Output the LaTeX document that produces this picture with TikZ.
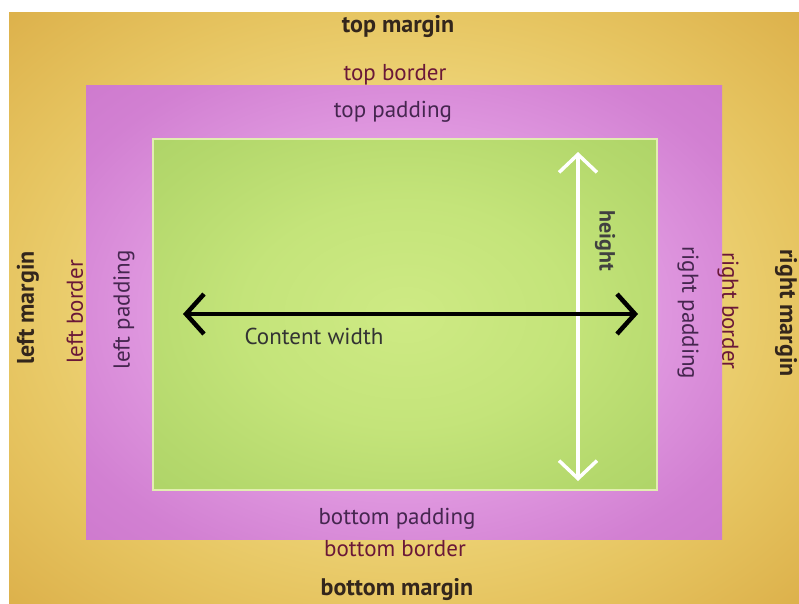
\documentclass[tikz,border=0pt]{standalone}
\usepackage{fontspec}
\setmainfont{PT Sans}
\usetikzlibrary{arrows.meta}
\definecolor{margtxt}{HTML}{33261C}
\definecolor{bordtxt}{HTML}{6A1838}
\definecolor{padtxt}{HTML}{45264F}
\definecolor{grline}{HTML}{E2EEB0}
\pgfdeclareradialshading{yelshade}{\pgfpoint{0bp}{0bp}}{%
  color(0bp)=(rgb,255:red,244;green,226;blue,138);
  color(14bp)=(rgb,255:red,240;green,218;blue,128);
  color(26bp)=(rgb,255:red,230;green,196;blue,96);
  color(36bp)=(rgb,255:red,220;green,176;blue,74);
  color(50bp)=(rgb,255:red,220;green,176;blue,74)}
\pgfdeclareradialshading{pinkshade}{\pgfpoint{0bp}{0bp}}{%
  color(0bp)=(rgb,255:red,236;green,178;blue,236);
  color(16bp)=(rgb,255:red,228;green,160;blue,228);
  color(30bp)=(rgb,255:red,210;green,128;blue,210);
  color(36bp)=(rgb,255:red,206;green,122;blue,206);
  color(50bp)=(rgb,255:red,206;green,122;blue,206)}
\pgfdeclareradialshading{grshade}{\pgfpoint{0bp}{0bp}}{%
  color(0bp)=(rgb,255:red,206;green,234;blue,132);
  color(16bp)=(rgb,255:red,196;green,228;blue,122);
  color(30bp)=(rgb,255:red,180;green,216;blue,108);
  color(36bp)=(rgb,255:red,174;green,212;blue,104);
  color(50bp)=(rgb,255:red,174;green,212;blue,104)}
\tikzset{
  lbl/.style={inner sep=0pt, font=\fontsize{23}{23}\selectfont},
  marg/.style={lbl, text=margtxt, font=\fontsize{24}{24}\selectfont\bfseries},
  bord/.style={lbl, text=bordtxt},
  pad/.style={lbl, text=padtxt},
}
\begin{document}
\begin{tikzpicture}[x=1pt,y=-1pt]
\useasboundingbox (0,0) rectangle (799,603);
\fill[white] (0,0) rectangle (799,603);
% margin area
\shade[shading=yelshade] (9,12) rectangle (799,603);
% border area
\shade[shading=pinkshade] (86,85) rectangle (722,539);
% content area
\shade[shading=grshade, draw=grline, line width=1.2pt] (153,139) rectangle (657,490);

% labels
\node[marg] (tm) at (398,27) {top margin};
\node[bord] (tb) at (395,75) {top border};
\node[pad]  (tp) at (393,112) {top padding};
\node[pad]  (bp) at (397,519) {bottom padding};
\node[bord] (bb) at (395,549) {bottom border};
\node[marg] (bm) at (397,589) {bottom margin};
\node[marg, rotate=90] (lm) at (28,308) {left margin};
\node[bord, rotate=90] (lb) at (75,312) {left border};
\node[pad,  rotate=90] (lp) at (124,310) {left padding};
\node[pad,  rotate=-90] (rp) at (688,313) {right padding};
\node[bord, rotate=-90] (rb) at (728,311) {right border};
\node[marg, rotate=-90] (rm) at (786,313) {right margin};
\node[lbl, text=black!75, font=\fontsize{22}{22}\selectfont\bfseries, rotate=-90] (ht) at (605,241) {height};
\node[lbl, text=black!80] (cw) at (314,336) {Content width};

% arrows
\coordinate (wl) at (183,314);
\coordinate (wr) at (638,314);
\coordinate (ht1) at (578,152);
\coordinate (ht2) at (578,481);
\draw[white, line width=3.5pt, {Straight Barb[length=18pt,width=38pt,line width=3.5pt]}-{Straight Barb[length=18pt,width=38pt,line width=3.5pt]}] (ht1) -- (ht2);
\draw[black, line width=4.5pt, {Straight Barb[length=18pt,width=40pt,line width=4.5pt]}-{Straight Barb[length=18pt,width=40pt,line width=4.5pt]}] (wl) -- (wr);
\end{tikzpicture}
\end{document}
